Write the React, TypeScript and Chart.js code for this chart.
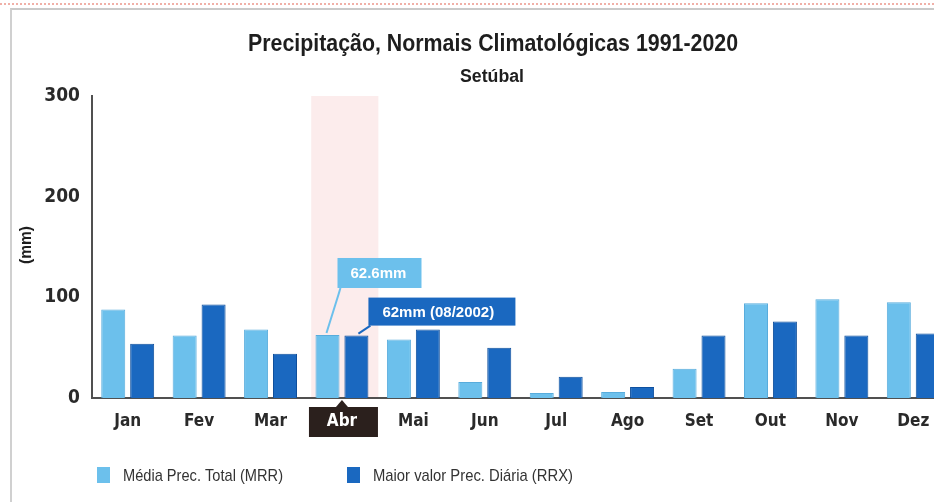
import React, { useEffect, useRef } from "react";
import { Chart, registerables } from "chart.js";

Chart.register(...registerables);

const categories = ["Jan", "Fev", "Mar", "Abr", "Mai", "Jun", "Jul", "Ago", "Set", "Out", "Nov", "Dez"];
const mrrValues = [88, 62, 68, 62.6, 58, 16, 5, 6, 29, 94, 98, 95];
const rrxValues = [54, 93, 44, 62, 68, 50, 21, 11, 62, 76, 62, 64];
const seriesNames = ["Média Prec. Total (MRR)", "Maior valor Prec. Diária (RRX)"];
const yTickValues = [0, 100, 200, 300];
const highlightIndex = 3;
const highlightLabels = ["62.6mm", "62mm (08/2002)"];
const titleText = "Precipitação, Normais Climatológicas 1991-2020";
const subtitleText = "Setúbal";
const yAxisTitle = "(mm)";

const LIGHT = "#6cc0ec";
const LIGHT_BORDER = "#58acdc";
const DARK = "#1a68c0";
const DARK_BORDER = "#0f4f9c";
const COND = '"DejaVu Sans Condensed", "Liberation Sans", sans-serif';
const SANS = '"Liberation Sans", Arial, sans-serif';

function drawFitted(
  ctx: CanvasRenderingContext2D,
  text: string,
  x: number,
  y: number,
  width: number,
  font: string,
  align: "left" | "center"
) {
  ctx.save();
  ctx.font = font;
  ctx.textBaseline = "middle";
  ctx.textAlign = "left";
  const m = ctx.measureText(text).width;
  const sx = width / m;
  const left = align === "center" ? x - width / 2 : x;
  ctx.translate(left, y);
  ctx.scale(sx, 1);
  ctx.fillText(text, 0, 0);
  ctx.restore();
}

const decorPlugin = {
  id: "decor",
  beforeDraw(chart: any) {
    const { ctx, scales } = chart;
    const xs = scales.x;
    const ys = scales.y;
    const cx = xs.getPixelForValue(highlightIndex);
    const w = xs.width / categories.length;
    ctx.save();
    ctx.fillStyle = "#fcecec";
    ctx.fillRect(cx - w * 0.43, ys.top, w * 0.94, ys.bottom - ys.top);
    ctx.fillStyle = "#2b201d";
    const top = ys.bottom + 9;
    ctx.fillRect(cx - 33, top, 69, 30);
    ctx.beginPath();
    ctx.moveTo(cx - 6, top);
    ctx.lineTo(cx, top - 7);
    ctx.lineTo(cx + 6, top);
    ctx.closePath();
    ctx.fill();
    ctx.restore();
  },
  afterDraw(chart: any) {
    const { ctx } = chart;
    ctx.save();
    ctx.fillStyle = "#1e1e1e";
    drawFitted(ctx, titleText, 493, 44, 490, `bold 24px ${SANS}`, "center");
    drawFitted(ctx, subtitleText, 492, 77, 64, `bold 18px ${SANS}`, "center");

    ctx.save();
    ctx.translate(27, 245);
    ctx.rotate(-Math.PI / 2);
    drawFitted(ctx, yAxisTitle, 0, 0, 38, `bold 16px ${SANS}`, "center");
    ctx.restore();

    const b0 = chart.getDatasetMeta(0).data[highlightIndex];
    const b1 = chart.getDatasetMeta(1).data[highlightIndex];
    ctx.font = `bold 15px ${SANS}`;
    ctx.textAlign = "left";
    ctx.textBaseline = "middle";
    {
      const left = b0.x + 10;
      const bottom = b0.y - 47;
      const h = 30;
      const wBox = 84;
      ctx.strokeStyle = LIGHT;
      ctx.lineWidth = 2;
      ctx.beginPath();
      ctx.moveTo(left + 3, bottom);
      ctx.lineTo(b0.x - 1, b0.y - 2);
      ctx.stroke();
      ctx.fillStyle = LIGHT;
      ctx.fillRect(left, bottom - h, wBox, h);
      ctx.fillStyle = "#ffffff";
      ctx.fillText(highlightLabels[0], left + 13, bottom - h / 2 + 1);
    }
    {
      const left = b1.x + 12;
      const bottom = b1.y - 10;
      const h = 28;
      const wBox = 147;
      ctx.strokeStyle = DARK;
      ctx.lineWidth = 2;
      ctx.beginPath();
      ctx.moveTo(left + 2, bottom);
      ctx.lineTo(b1.x + 2, b1.y - 2);
      ctx.stroke();
      ctx.fillStyle = DARK;
      ctx.fillRect(left, bottom - h, wBox, h);
      ctx.fillStyle = "#ffffff";
      ctx.fillText(highlightLabels[1], left + 14, bottom - h / 2 + 1);
    }

    const items = [
      { x: 97, color: LIGHT, text: seriesNames[0], w: 160 },
      { x: 347, color: DARK, text: seriesNames[1], w: 200 },
    ];
    for (const it of items) {
      ctx.fillStyle = it.color;
      ctx.fillRect(it.x, 467, 13, 16);
      ctx.fillStyle = "#333333";
      drawFitted(ctx, it.text, it.x + 26, 476, it.w, `17px ${SANS}`, "left");
    }
    ctx.restore();
  },
};

export default function App() {
  const canvasRef = useRef<HTMLCanvasElement | null>(null);

  useEffect(() => {
    if (!canvasRef.current) return;
    const chart = new Chart(canvasRef.current, {
      type: "bar",
      data: {
        labels: categories,
        datasets: [
          {
            label: seriesNames[0],
            data: mrrValues,
            backgroundColor: LIGHT,
            borderColor: LIGHT_BORDER,
            borderWidth: 1,
            categoryPercentage: 0.81,
            barPercentage: 0.83,
          },
          {
            label: seriesNames[1],
            data: rrxValues,
            backgroundColor: DARK,
            borderColor: DARK_BORDER,
            borderWidth: 1,
            categoryPercentage: 0.81,
            barPercentage: 0.83,
          },
        ],
      },
      options: {
        responsive: false,
        animation: false,
        devicePixelRatio: 1,
        layout: { padding: { top: 96, left: 0, right: 0, bottom: 0 } },
        plugins: {
          legend: { display: false },
          title: { display: false },
          tooltip: { enabled: false },
        },
        scales: {
          x: {
            grid: { display: false, drawTicks: false },
            border: { display: true, color: "#505050", width: 2 },
            ticks: {
              padding: 13,
              color: (c: any) => (c.index === highlightIndex ? "#ffffff" : "#2a2a2a"),
              font: { family: COND, size: 17, weight: "bold" },
            },
            afterFit(scale: any) {
              scale.height = 104;
            },
          },
          y: {
            min: 0,
            max: 300,
            afterBuildTicks(scale: any) {
              scale.ticks = yTickValues.map((v) => ({ value: v }));
            },
            grid: { display: false, drawTicks: false },
            border: { display: true, color: "#505050", width: 2 },
            ticks: {
              padding: 12,
              color: "#2a2a2a",
              font: { family: COND, size: 19, weight: "bold" },
            },
            afterFit(scale: any) {
              scale.width = 92;
            },
          },
        },
      } as any,
      plugins: [decorPlugin],
    });
    return () => chart.destroy();
  }, []);

  return (
    <div
      style={{
        position: "absolute",
        left: 0,
        top: 0,
        width: 934,
        height: 502,
        overflow: "hidden",
        background: "#ffffff",
      }}
    >
      <div
        style={{
          position: "absolute",
          left: 0,
          top: 3,
          width: 934,
          height: 0,
          borderTop: "2px dotted #f0b0a8",
        }}
      />
      <div
        style={{
          position: "absolute",
          left: 10,
          top: 8,
          width: 940,
          height: 520,
          borderTop: "2px solid #c9c9c9",
          borderLeft: "2px solid #d0d0d0",
        }}
      />
      <canvas
        ref={canvasRef}
        width={949}
        height={502}
        style={{ position: "absolute", left: 0, top: 0, width: 949, height: 502 }}
      />
    </div>
  );
}
